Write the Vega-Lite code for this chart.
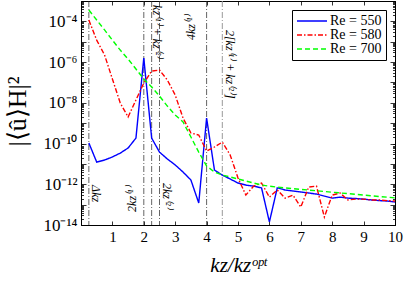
{
  "$schema": "https://vega.github.io/schema/vega-lite/v6.json",
  "width": 314,
  "height": 224,
  "autosize": {"type": "none"},
  "padding": {"left": 81, "top": 1, "right": 12, "bottom": 56},
  "background": "white",
  "config": {
    "view": {"stroke": "black", "strokeWidth": 1},
    "font": "Liberation Serif",
    "axis": {"grid": false, "domainColor": "black", "tickColor": "black", "labelColor": "black", "titleColor": "black", "labelFont": "Liberation Serif", "titleFont": "Liberation Serif", "domainWidth": 1, "tickWidth": 0.8},
    "legend": {"orient": "none", "legendX": 211, "legendY": 9, "strokeColor": "black", "fillColor": "white", "labelFont": "Liberation Serif", "labelColor": "black"}
  },
  "datasets": {
    "spectra": [
      {"k": 0.25, "Re = 550": 1.07e-10, "Re = 580": 1.17e-4, "Re = 700": 3.6e-4},
      {"k": 0.5, "Re = 550": 1.23e-11, "Re = 580": 1.2e-5, "Re = 700": 1.17e-4},
      {"k": 0.75, "Re = 550": 1.55e-11, "Re = 580": 2.24e-6, "Re = 700": 3.8e-5},
      {"k": 1.0, "Re = 550": 2.19e-11, "Re = 580": 1.48e-7, "Re = 700": 1.2e-5},
      {"k": 1.25, "Re = 550": 3.39e-11, "Re = 580": 9.77e-9, "Re = 700": 3.89e-6},
      {"k": 1.5, "Re = 550": 6.03e-11, "Re = 580": 2.0e-9, "Re = 700": 1.41e-6},
      {"k": 1.75, "Re = 550": 1.86e-10, "Re = 580": 1.38e-8, "Re = 700": 4.57e-7},
      {"k": 2.0, "Re = 550": 1.58e-6, "Re = 580": 9.33e-8, "Re = 700": 1.48e-7},
      {"k": 2.25, "Re = 550": 1.86e-10, "Re = 580": 3.63e-7, "Re = 700": 6.03e-8},
      {"k": 2.5, "Re = 550": 3.8e-11, "Re = 580": 4.07e-7, "Re = 700": 2.14e-8},
      {"k": 2.75, "Re = 550": 1.74e-11, "Re = 580": 1.32e-7, "Re = 700": 6.92e-9},
      {"k": 3.0, "Re = 550": 8.91e-12, "Re = 580": 2.4e-8, "Re = 700": 2.51e-9},
      {"k": 3.25, "Re = 550": 3.98e-12, "Re = 580": 1.78e-9, "Re = 700": 1.15e-9},
      {"k": 3.5, "Re = 550": 1.62e-12, "Re = 580": 3.31e-10, "Re = 700": 2.09e-10},
      {"k": 3.75, "Re = 550": 1.2e-13, "Re = 580": 2.63e-10, "Re = 700": 3.8e-11},
      {"k": 4.0, "Re = 550": 1.78e-9, "Re = 580": 4.27e-11, "Re = 700": 7.94e-12},
      {"k": 4.25, "Re = 550": 5.01e-12, "Re = 580": 6.76e-11, "Re = 700": 3.98e-12},
      {"k": 4.5, "Re = 550": 2.82e-12, "Re = 580": 1.17e-10, "Re = 700": 2.82e-12},
      {"k": 4.75, "Re = 550": 1.82e-12, "Re = 580": 2.75e-11, "Re = 700": 2.29e-12},
      {"k": 5.0, "Re = 550": 1.15e-12, "Re = 580": 2.04e-12, "Re = 700": 1.82e-12},
      {"k": 5.25, "Re = 550": 9.12e-13, "Re = 580": 2.95e-13, "Re = 700": 1.45e-12},
      {"k": 5.5, "Re = 550": 8.13e-13, "Re = 580": 8.13e-13, "Re = 700": 1.15e-12},
      {"k": 5.75, "Re = 550": 6.61e-13, "Re = 580": 1.15e-12, "Re = 700": 9.12e-13},
      {"k": 6.0, "Re = 550": 1.41e-14, "Re = 580": 2.34e-13, "Re = 700": 8.13e-13},
      {"k": 6.25, "Re = 550": 6.61e-13, "Re = 580": 5.25e-13, "Re = 700": 7.24e-13},
      {"k": 6.5, "Re = 550": 5.25e-13, "Re = 580": 2.09e-13, "Re = 700": 6.61e-13},
      {"k": 6.75, "Re = 550": 4.68e-13, "Re = 580": 2.95e-13, "Re = 700": 6.1e-13},
      {"k": 7.0, "Re = 550": 4.17e-13, "Re = 580": 7.59e-14, "Re = 700": 5.62e-13},
      {"k": 7.25, "Re = 550": 3.72e-13, "Re = 580": 7.24e-13, "Re = 700": 5.19e-13},
      {"k": 7.5, "Re = 550": 3.31e-13, "Re = 580": 8.13e-13, "Re = 700": 4.79e-13},
      {"k": 7.75, "Re = 550": 2.63e-13, "Re = 580": 2.45e-14, "Re = 700": 4.42e-13},
      {"k": 8.0, "Re = 550": 2.09e-13, "Re = 580": 2.95e-13, "Re = 700": 4.07e-13},
      {"k": 8.25, "Re = 550": 2.34e-13, "Re = 580": 3.72e-13, "Re = 700": 3.76e-13},
      {"k": 8.5, "Re = 550": 2.09e-13, "Re = 580": 1.7e-13, "Re = 700": 3.47e-13},
      {"k": 8.75, "Re = 550": 2.0e-13, "Re = 580": 1.86e-13, "Re = 700": 3.2e-13},
      {"k": 9.0, "Re = 550": 1.86e-13, "Re = 580": 1.86e-13, "Re = 700": 2.95e-13},
      {"k": 9.25, "Re = 550": 1.7e-13, "Re = 580": 1.7e-13, "Re = 700": 2.72e-13},
      {"k": 9.5, "Re = 550": 1.58e-13, "Re = 580": 1.7e-13, "Re = 700": 2.51e-13},
      {"k": 9.75, "Re = 550": 1.51e-13, "Re = 580": 1.58e-13, "Re = 700": 2.32e-13},
      {"k": 10.0, "Re = 550": 1.35e-13, "Re = 580": 1.51e-13, "Re = 700": 2.14e-13}
    ],
    "markers": [{"k": 0.25}, {"k": 2.0}, {"k": 2.25}, {"k": 2.5}, {"k": 4.0}],
    "markersGray": [{"k": 4.5}],
    "labelsDown": [
      {"k": 0.48, "v": 9.1e-13, "label": "Δkz"},
      {"k": 2.42, "v": 6.3e-4, "label": "kz⁽¹⁾ + kz⁽²⁾"},
      {"k": 2.74, "v": 1.15e-12, "label": "2kz⁽²⁾"},
      {"k": 4.75, "v": 3.8e-5, "label": "2[kz⁽¹⁾ + kz⁽²⁾]"}
    ],
    "labelsUp": [
      {"k": 1.62, "v": 4.4e-14, "label": "2kz⁽¹⁾"},
      {"k": 3.5, "v": 1.2e-5, "label": "4kz⁽¹⁾"}
    ]
  },
  "layer": [
    {
      "data": {"name": "markers"},
      "mark": {"type": "rule", "strokeDash": [6, 2, 1, 2], "strokeWidth": 0.7, "color": "#222222"},
      "encoding": {
        "x": {"field": "k", "type": "quantitative", "scale": {"domain": [0, 10], "nice": false, "zero": false}, "axis": null}
      }
    },
    {
      "data": {"name": "markersGray"},
      "mark": {"type": "rule", "strokeDash": [6, 2, 1, 2], "strokeWidth": 1, "color": "#999999"},
      "encoding": {
        "x": {"field": "k", "type": "quantitative", "scale": {"domain": [0, 10], "nice": false, "zero": false}, "axis": null}
      }
    },
    {
      "data": {"name": "spectra"},
      "transform": [{"fold": ["Re = 550", "Re = 580", "Re = 700"], "as": ["series", "value"]}],
      "mark": {"type": "line", "strokeWidth": 1.4, "clip": true},
      "encoding": {
        "x": {
          "field": "k", "type": "quantitative",
          "scale": {"domain": [0, 10], "nice": false, "zero": false},
          "axis": {"orient": "bottom", "values": [1, 2, 3, 4, 5, 6, 7, 8, 9, 10], "format": "d", "tickSize": -4, "labelPadding": 8, "labelFontSize": 15, "labelFlush": false, "labelOverlap": false, "title": "kz/kzᵒᵖᵗ", "titleFontSize": 21, "titleFontStyle": "italic", "titleFontWeight": "normal", "titleX": 157, "titleY": 46, "titleBaseline": "alphabetic", "titleAlign": "center"}
        },
        "y": {
          "field": "value", "type": "quantitative",
          "scale": {"type": "log", "domain": [1e-14, 1e-3], "nice": false},
          "axis": {
            "orient": "left",
            "values": [1e-14,2e-14,3e-14,4e-14,5e-14,6e-14,7e-14,8e-14,9e-14,1e-13,2e-13,3e-13,4e-13,5e-13,6e-13,7e-13,8e-13,9e-13,1e-12,2e-12,3e-12,4e-12,5e-12,6e-12,7e-12,8e-12,9e-12,1e-11,2e-11,3e-11,4e-11,5e-11,6e-11,7e-11,8e-11,9e-11,1e-10,2e-10,3e-10,4e-10,5e-10,6e-10,7e-10,8e-10,9e-10,1e-9,2e-9,3e-9,4e-9,5e-9,6e-9,7e-9,8e-9,9e-9,1e-8,2e-8,3e-8,4e-8,5e-8,6e-8,7e-8,8e-8,9e-8,1e-7,2e-7,3e-7,4e-7,5e-7,6e-7,7e-7,8e-7,9e-7,1e-6,2e-6,3e-6,4e-6,5e-6,6e-6,7e-6,8e-6,9e-6,1e-5,2e-5,3e-5,4e-5,5e-5,6e-5,7e-5,8e-5,9e-5,1e-4,2e-4,3e-4,4e-4,5e-4,6e-4,7e-4,8e-4,9e-4,1e-3],
            "tickSize": {"condition": {"test": "abs(log(datum.value)/LN10 - round(log(datum.value)/LN10)) < 0.001", "value": -5}, "value": -2.5},
            "labelExpr": "abs(log(datum.value)/LN10 - round(log(datum.value)/LN10)) < 0.001 && round(log(datum.value)/LN10) % 2 == 0 ? ['10⁻¹⁴','','10⁻¹²','','10⁻¹⁰','','10⁻⁸','','10⁻⁶','','10⁻⁴','',''][round(log(datum.value)/LN10)+14] : ''",
            "labelPadding": 9, "labelFontSize": 17, "labelOverlap": false, "labelFlush": false,
            "title": "|⟨û⟩H|²", "titleFontSize": 26, "titleFontWeight": "normal", "titleAngle": -90, "titleX": -64, "titleY": 110, "titleAlign": "center", "titleBaseline": "middle"
          }
        },
        "color": {"field": "series", "type": "nominal", "scale": {"domain": ["Re = 550", "Re = 580", "Re = 700"], "range": ["#0000ff", "#ff0000", "#00ff00"]},
          "legend": {"title": null, "padding": 4, "labelFontSize": 14, "labelLimit": 200, "symbolType": "M-2.5,0H2.5", "symbolSize": 144, "symbolOffset": 9, "symbolFillColor": "transparent", "symbolStrokeWidth": 1.5, "labelOffset": 11, "rowPadding": -6}},
        "strokeDash": {"field": "series", "type": "nominal", "scale": {"domain": ["Re = 550", "Re = 580", "Re = 700"], "range": [[1, 0], [5, 2, 1.5, 2], [5, 3]]},
          "legend": {"title": null, "padding": 4, "labelFontSize": 14, "labelLimit": 200, "symbolType": "M-2.5,0H2.5", "symbolSize": 144, "symbolOffset": 9, "symbolFillColor": "transparent", "symbolStrokeWidth": 1.5, "labelOffset": 11, "rowPadding": -6}}
      }
    },
    {
      "data": {"name": "spectra"},
      "mark": {"type": "point", "opacity": 0},
      "encoding": {
        "x": {
          "field": "k", "type": "quantitative",
          "scale": {"domain": [0, 10], "nice": false, "zero": false},
          "axis": {"orient": "top", "values": [1, 2, 3, 4, 5, 6, 7, 8, 9, 10], "tickSize": -4, "labels": false, "title": null}
        },
        "y": {
          "field": "Re = 700", "type": "quantitative",
          "scale": {"type": "log", "domain": [1e-14, 1e-3], "nice": false},
          "axis": {
            "orient": "right",
            "values": [1e-14,2e-14,3e-14,4e-14,5e-14,6e-14,7e-14,8e-14,9e-14,1e-13,2e-13,3e-13,4e-13,5e-13,6e-13,7e-13,8e-13,9e-13,1e-12,2e-12,3e-12,4e-12,5e-12,6e-12,7e-12,8e-12,9e-12,1e-11,2e-11,3e-11,4e-11,5e-11,6e-11,7e-11,8e-11,9e-11,1e-10,2e-10,3e-10,4e-10,5e-10,6e-10,7e-10,8e-10,9e-10,1e-9,2e-9,3e-9,4e-9,5e-9,6e-9,7e-9,8e-9,9e-9,1e-8,2e-8,3e-8,4e-8,5e-8,6e-8,7e-8,8e-8,9e-8,1e-7,2e-7,3e-7,4e-7,5e-7,6e-7,7e-7,8e-7,9e-7,1e-6,2e-6,3e-6,4e-6,5e-6,6e-6,7e-6,8e-6,9e-6,1e-5,2e-5,3e-5,4e-5,5e-5,6e-5,7e-5,8e-5,9e-5,1e-4,2e-4,3e-4,4e-4,5e-4,6e-4,7e-4,8e-4,9e-4,1e-3],
            "tickSize": {"condition": {"test": "abs(log(datum.value)/LN10 - round(log(datum.value)/LN10)) < 0.001", "value": -5}, "value": -2.5},
            "labels": false, "title": null
          }
        }
      }
    },
    {
      "data": {"name": "labelsDown"},
      "mark": {"type": "text", "angle": 90, "align": "left", "baseline": "middle", "fontSize": 12, "fontStyle": "italic", "font": "Liberation Serif", "color": "black"},
      "encoding": {
        "x": {"field": "k", "type": "quantitative", "scale": {"domain": [0, 10], "nice": false, "zero": false}, "axis": null},
        "y": {"field": "v", "type": "quantitative", "scale": {"type": "log", "domain": [1e-14, 1e-3], "nice": false}, "axis": null},
        "text": {"field": "label"}
      }
    },
    {
      "data": {"name": "labelsUp"},
      "mark": {"type": "text", "angle": 270, "align": "left", "baseline": "middle", "fontSize": 12, "fontStyle": "italic", "font": "Liberation Serif", "color": "black"},
      "encoding": {
        "x": {"field": "k", "type": "quantitative", "scale": {"domain": [0, 10], "nice": false, "zero": false}, "axis": null},
        "y": {"field": "v", "type": "quantitative", "scale": {"type": "log", "domain": [1e-14, 1e-3], "nice": false}, "axis": null},
        "text": {"field": "label"}
      }
    }
  ],
  "resolve": {"axis": {"x": "independent", "y": "independent"}}
}
